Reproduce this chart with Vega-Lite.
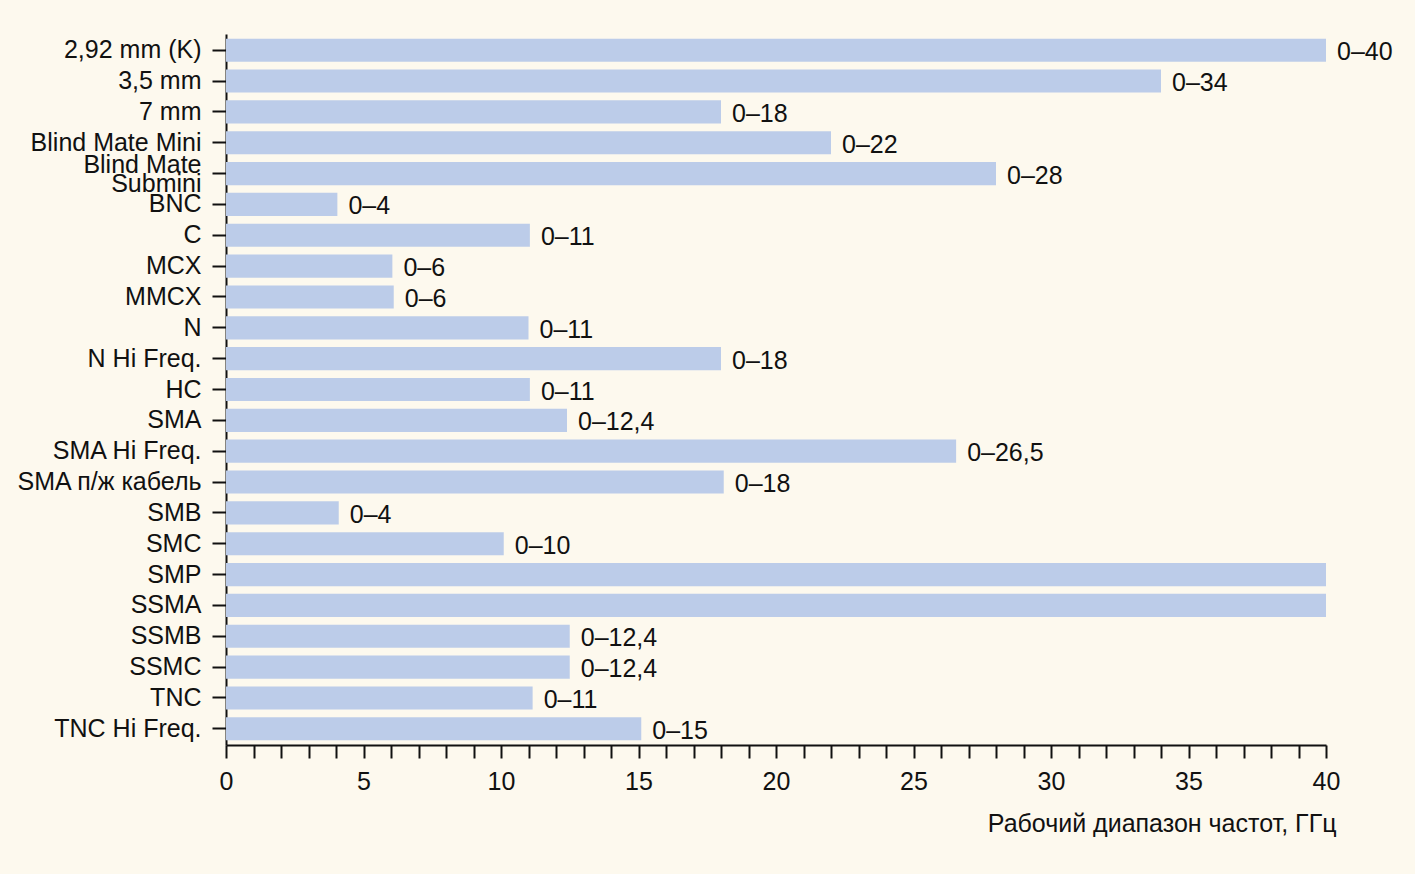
{
  "$schema": "https://vega.github.io/schema/vega-lite/v6.json",
  "width": 1100,
  "height": 711,
  "autosize": {"type": "none"},
  "padding": {"left": 226, "top": 34, "right": 89, "bottom": 129},
  "background": "#fdf9ee",
  "config": {
    "view": {"stroke": null},
    "font": "Liberation Sans",
    "axis": {"labelFont": "Liberation Sans", "titleFont": "Liberation Sans", "labelColor": "#111111", "titleColor": "#111111"}
  },
  "data": {
    "values": [
      {"name": "2,92 mm (K)", "value": 40, "label": "0–40"},
      {"name": "3,5 mm", "value": 34, "label": "0–34"},
      {"name": "7 mm", "value": 18, "label": "0–18"},
      {"name": "Blind Mate Mini", "value": 22, "label": "0–22"},
      {"name": "Blind Mate Submini", "value": 28, "label": "0–28"},
      {"name": "BNC", "value": 4.05, "label": "0–4"},
      {"name": "C", "value": 11.05, "label": "0–11"},
      {"name": "MCX", "value": 6.05, "label": "0–6"},
      {"name": "MMCX", "value": 6.1, "label": "0–6"},
      {"name": "N", "value": 11, "label": "0–11"},
      {"name": "N Hi Freq.", "value": 18, "label": "0–18"},
      {"name": "HC", "value": 11.05, "label": "0–11"},
      {"name": "SMA", "value": 12.4, "label": "0–12,4"},
      {"name": "SMA Hi Freq.", "value": 26.55, "label": "0–26,5"},
      {"name": "SMA п/ж кабель", "value": 18.1, "label": "0–18"},
      {"name": "SMB", "value": 4.1, "label": "0–4"},
      {"name": "SMC", "value": 10.1, "label": "0–10"},
      {"name": "SMP", "value": 40, "label": ""},
      {"name": "SSMA", "value": 40, "label": ""},
      {"name": "SSMB", "value": 12.5, "label": "0–12,4"},
      {"name": "SSMC", "value": 12.5, "label": "0–12,4"},
      {"name": "TNC", "value": 11.15, "label": "0–11"},
      {"name": "TNC Hi Freq.", "value": 15.1, "label": "0–15"}
    ]
  },
  "encoding": {
    "y": {
      "field": "name",
      "type": "nominal",
      "sort": null,
      "scale": {"paddingInner": 0.25, "paddingOuter": 0.15},
      "axis": {
        "title": null,
        "labelFontSize": 25,
        "labelPadding": 11,
        "labelLimit": 260,
        "tickSize": 14,
        "tickWidth": 2,
        "tickColor": "#111111",
        "domainColor": "#111111",
        "domainWidth": 2,
        "labelLineHeight": 19,
        "labelOffset": {"condition": {"test": "datum.value == 'Blind Mate Submini'", "value": -9}, "value": 0},
        "labelExpr": "datum.label == 'Blind Mate Submini' ? ['Blind Mate', 'Submini'] : datum.label"
      }
    },
    "x": {
      "field": "value",
      "type": "quantitative",
      "scale": {"domain": [0, 40], "nice": false},
      "axis": {
        "title": "Рабочий диапазон частот, ГГц",
        "titleFontSize": 25,
        "titleFontWeight": "normal",
        "titleAnchor": "end",
        "titleAlign": "right",
        "titleX": 1110,
        "titleY": 78,
        "titleBaseline": "middle",
        "values": [0,1,2,3,4,5,6,7,8,9,10,11,12,13,14,15,16,17,18,19,20,21,22,23,24,25,26,27,28,29,30,31,32,33,34,35,36,37,38,39,40],
        "labelExpr": "datum.value % 5 == 0 ? datum.label : ''",
        "labelFontSize": 25,
        "labelPadding": 11,
        "tickSize": 13,
        "tickWidth": 2,
        "tickColor": "#111111",
        "domainColor": "#111111",
        "domainWidth": 2,
        "grid": false,
        "labelFlush": false,
        "labelOverlap": false
      }
    }
  },
  "layer": [
    {"mark": {"type": "bar", "color": "#bccce9"}},
    {
      "mark": {"type": "text", "align": "left", "baseline": "middle", "dx": 11, "dy": 2, "fontSize": 25, "color": "#111111"},
      "encoding": {"text": {"field": "label"}}
    }
  ]
}
